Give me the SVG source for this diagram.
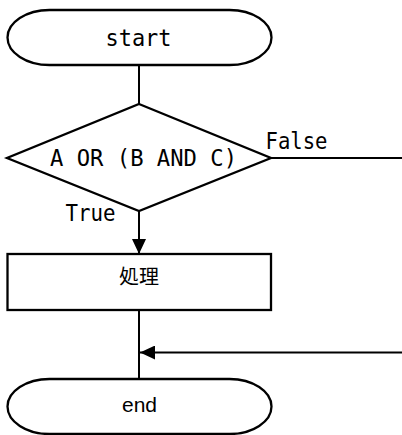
<svg xmlns="http://www.w3.org/2000/svg" width="402" height="435" viewBox="0 0 402 435">
<defs>
<style>
.shape{fill:#fff;stroke:#000;stroke-width:2.3}
.line{fill:none;stroke:#000;stroke-width:2}
.mono{font-family:"DejaVu Sans Mono","Liberation Mono",monospace;font-size:22.5px;fill:#000}
.sans{font-family:"Liberation Sans","Noto Sans CJK JP",sans-serif;font-size:21px;fill:#000}
.cjk{font-family:"Noto Sans CJK JP",sans-serif;font-size:20px;fill:#000}
</style>
<marker id="arr" markerWidth="15" markerHeight="14" refX="15" refY="7" orient="auto" markerUnits="userSpaceOnUse">
<path d="M0,0 L15,7 L0,14 Z" fill="#000"/>
</marker>
</defs>
<g id="connectors">
<line class="line" x1="139" y1="65" x2="139" y2="104"/>
<line class="line" x1="271" y1="158" x2="402" y2="158"/>
<line class="line" x1="139" y1="211" x2="139" y2="254" marker-end="url(#arr)"/>
<line class="line" x1="139" y1="310" x2="139" y2="379"/>
<line class="line" x1="402" y1="352.5" x2="140" y2="352.5" marker-end="url(#arr)"/>
<text class="mono" x="265.5" y="148.5" textLength="62" lengthAdjust="spacingAndGlyphs">False</text>
<text class="mono" x="65.5" y="220.5" textLength="50" lengthAdjust="spacingAndGlyphs">True</text>
</g>
<g id="start">
<rect class="shape" x="7.5" y="10" width="264" height="55" rx="42" ry="27.5"/>
<text class="mono" x="105.5" y="46" textLength="66" lengthAdjust="spacingAndGlyphs">start</text>
</g>
<g id="decision">
<polygon class="shape" points="139,104 271,158 139,211 7,158"/>
<text class="mono" x="50" y="166" textLength="187" lengthAdjust="spacingAndGlyphs">A OR (B AND C)</text>
</g>
<g id="process">
<rect class="shape" x="7.5" y="254" width="263.5" height="56"/>
<text class="cjk" x="139" y="284" text-anchor="middle">処理</text>
</g>
<g id="end">
<rect class="shape" x="7.5" y="379" width="264" height="55" rx="42" ry="27.5"/>
<text class="sans" x="139.5" y="411.5" text-anchor="middle">end</text>
</g>
</svg>
